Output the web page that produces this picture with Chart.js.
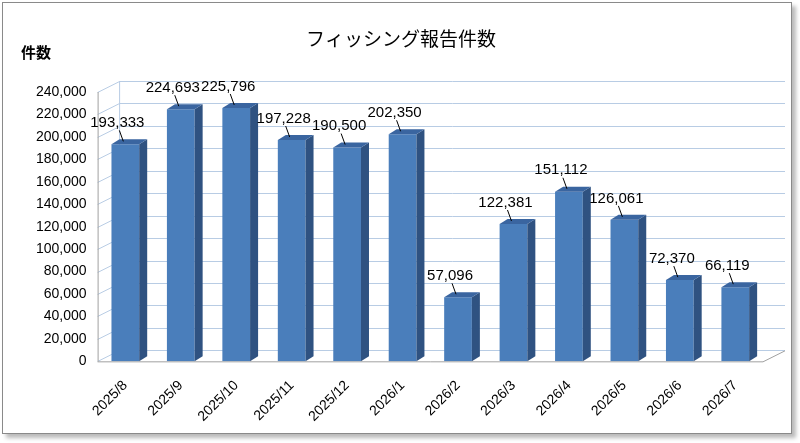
<!DOCTYPE html>
<html><head><meta charset="utf-8">
<script src="https://cdn.jsdelivr.net/npm/chart.js@4"></script>
<style>
body{margin:0;background:#fff;}
#wrap{position:absolute;left:2px;top:2px;width:788px;height:430px;border:1px solid #8a8a8a;box-shadow:4px 4px 4px #bbb;background:#fff;}
canvas{display:block;}
</style></head><body>
<div id="wrap"><canvas id="c" width="788" height="430"></canvas></div>
<script>
const months = ['2025/8','2025/9','2025/10','2025/11','2025/12','2026/1','2026/2','2026/3','2026/4','2026/5','2026/6','2026/7'];
const reports = [193333,224693,225796,197228,190500,202350,57096,122381,151112,126061,72370,66119];
const yMax = 240000;
const yStep = 20000;

const DX = 22, DY = -11, SIDE = 8, TOPD = -5;

const wallPlugin = {
    id: 'wall',
    beforeDatasetsDraw(chart) {
        const {ctx, chartArea: a, scales: {y}} = chart;
        ctx.save();
        ctx.strokeStyle = '#b8cce4';
        ctx.lineWidth = 1;
        for (let v = 0; v <= yMax; v += yStep) {
            const py = Math.round(y.getPixelForValue(v)) + 0.5;
            ctx.beginPath();
            ctx.moveTo(a.left, py);
            ctx.lineTo(a.left + DX, py + DY);
            ctx.lineTo(a.right + DX, py + DY);
            ctx.stroke();
        }
        ctx.beginPath();
        ctx.moveTo(a.left + DX, a.top + DY);
        ctx.lineTo(a.left + DX, a.bottom + DY);
        ctx.stroke();
        // floor
        ctx.strokeStyle = '#a0a0a0';
        ctx.beginPath();
        ctx.moveTo(a.left, a.bottom + 0.5);
        ctx.lineTo(a.right, a.bottom + 0.5);
        ctx.lineTo(a.right + DX, a.bottom + DY + 0.5);
        ctx.stroke();
        ctx.beginPath();
        ctx.moveTo(a.left + 0.5, a.top);
        ctx.lineTo(a.left + 0.5, a.bottom);
        ctx.stroke();
        ctx.restore();
    },
    afterDatasetsDraw(chart) {
        const {ctx} = chart;
        const meta = chart.getDatasetMeta(0);
        ctx.save();
        meta.data.forEach((bar, i) => {
            const l = bar.x - bar.width / 2, r = bar.x + bar.width / 2;
            const t = bar.y, b = bar.base;
            ctx.fillStyle = '#2f5281';
            ctx.beginPath();
            ctx.moveTo(r, t); ctx.lineTo(r + SIDE, t + TOPD); ctx.lineTo(r + SIDE, b + TOPD); ctx.lineTo(r, b);
            ctx.closePath(); ctx.fill();
            ctx.fillStyle = '#3a65a0';
            ctx.beginPath();
            ctx.moveTo(l, t); ctx.lineTo(l + SIDE, t + TOPD); ctx.lineTo(r + SIDE, t + TOPD); ctx.lineTo(r, t);
            ctx.closePath(); ctx.fill();
            // label with leader
            ctx.strokeStyle = '#000';
            ctx.lineWidth = 1;
            ctx.beginPath();
            ctx.moveTo(bar.x - 2, t - 3);
            ctx.lineTo(bar.x - 6, t - 14);
            ctx.stroke();
            ctx.fillStyle = '#000';
            ctx.font = '15px "Liberation Sans", sans-serif';
            ctx.textAlign = 'center';
            ctx.textBaseline = 'bottom';
            ctx.fillText(reports[i].toLocaleString('en-US'), bar.x - 8, t - 14);
        });
        ctx.restore();
    }
};

const titlePlugin = {
    id: 'texts',
    afterDraw(chart) {
        const {ctx} = chart;
        ctx.save();
        ctx.fillStyle = '#000';
        ctx.font = '19px "Noto Sans CJK JP"';
        ctx.textAlign = 'center';
        ctx.textBaseline = 'middle';
        ctx.fillText('フィッシング報告件数', 398, 36);
        ctx.font = 'bold 15px "Noto Sans CJK JP"';
        ctx.textAlign = 'left';
        ctx.fillText('件数', 18, 49);
        ctx.restore();
    }
};

new Chart(document.getElementById('c'), {
    type: 'bar',
    data: {
        labels: months,
        datasets: [{
            data: reports,
            backgroundColor: '#4a7ebb',
            barPercentage: 0.5,
            categoryPercentage: 1
        }]
    },
    options: {
        responsive: false,
        animation: false,
        layout: {padding: {top: 89, right: 28, left: 30, bottom: 0}},
        plugins: {legend: {display: false}, tooltip: {enabled: false}},
        scales: {
            y: {
                min: 0, max: yMax,
                ticks: {stepSize: yStep, color: '#000', font: {size: 14, family: '"Liberation Sans"'},
                    callback: v => v.toLocaleString('en-US')},
                grid: {display: false},
                border: {display: false}
            },
            x: {
                ticks: {color: '#000', font: {size: 14, family: '"Liberation Sans"'}, maxRotation: 45, minRotation: 45, padding: 8},
                grid: {display: false},
                border: {display: false}
            }
        }
    },
    plugins: [wallPlugin, titlePlugin]
});
</script>
</body></html>
